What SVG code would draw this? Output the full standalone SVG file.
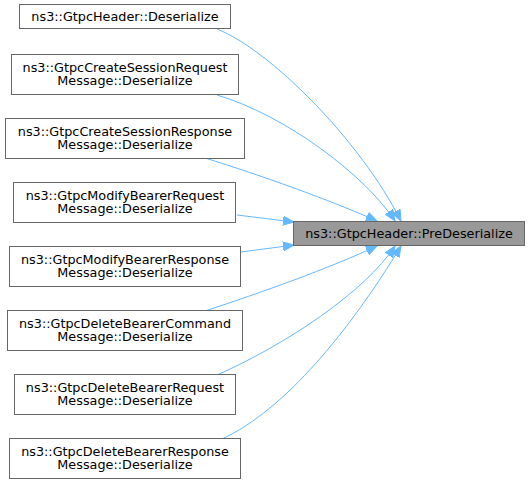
<svg xmlns="http://www.w3.org/2000/svg" width="531" height="484" viewBox="0 0 531 484">
<style>
.node rect{fill:#ffffff;stroke:#666666;stroke-width:1}
.root rect{fill:#999999;stroke:#666666;stroke-width:1}
text{font-family:"DejaVu Sans","Liberation Sans",sans-serif;font-size:12.8px;fill:#000000;text-anchor:middle}
.edges path{fill:none;stroke:#63b8ff;stroke-width:1;marker-end:url(#arr)}
</style>
<defs>
<marker id="arr" markerUnits="userSpaceOnUse" markerWidth="12" markerHeight="10" viewBox="0 0 12 10" refX="11" refY="5" orient="auto">
<path d="M0,0.5 L11,5 L0,9.5 z" fill="#63b8ff" stroke="#63b8ff" stroke-width="1"/>
</marker>
</defs>
<rect width="531" height="484" fill="#ffffff"/>
<g class="edges" id="edges">
<path d="M217,29 C270,50 360,140 401,221"/>
<path d="M217,95 C285,115 365,175 395,221"/>
<path d="M205,158 C260,175 330,200 377,221"/>
<path d="M237,215 L294,222"/>
<path d="M241,252 L294,245"/>
<path d="M205,311 C260,293 330,268 377,246"/>
<path d="M217,375 C285,345 365,292 395,246"/>
<path d="M222,439 C285,410 350,330 401,246"/>
</g>
<g class="node" id="n1"><rect x="19.5" y="4.5" width="211" height="24"/><text x="125" y="20.5">ns3::GtpcHeader::Deserialize</text></g>
<g class="node" id="n2"><rect x="11.5" y="54.5" width="227" height="40"/><text x="125" y="71.5">ns3::GtpcCreateSessionRequest</text><text x="125" y="85">Message::Deserialize</text></g>
<g class="node" id="n3"><rect x="5.5" y="118.5" width="239" height="40"/><text x="125" y="135.5">ns3::GtpcCreateSessionResponse</text><text x="125" y="149">Message::Deserialize</text></g>
<g class="node" id="n4"><rect x="13.5" y="182.5" width="222" height="40"/><text x="125" y="199.5">ns3::GtpcModifyBearerRequest</text><text x="125" y="213">Message::Deserialize</text></g>
<g class="node" id="n5"><rect x="9.5" y="246.5" width="231" height="40"/><text x="125" y="263.5">ns3::GtpcModifyBearerResponse</text><text x="125" y="277">Message::Deserialize</text></g>
<g class="node" id="n6"><rect x="7.5" y="310.5" width="235" height="40"/><text x="125" y="327.5">ns3::GtpcDeleteBearerCommand</text><text x="125" y="341">Message::Deserialize</text></g>
<g class="node" id="n7"><rect x="14.5" y="374.5" width="221" height="40"/><text x="125" y="391.5">ns3::GtpcDeleteBearerRequest</text><text x="125" y="405">Message::Deserialize</text></g>
<g class="node" id="n8"><rect x="9.5" y="438.5" width="231" height="40"/><text x="125" y="455.5">ns3::GtpcDeleteBearerResponse</text><text x="125" y="469">Message::Deserialize</text></g>
<g class="root" id="root"><rect x="293.5" y="221.5" width="231" height="24"/><text x="409" y="237.5">ns3::GtpcHeader::PreDeserialize</text></g>
</svg>
